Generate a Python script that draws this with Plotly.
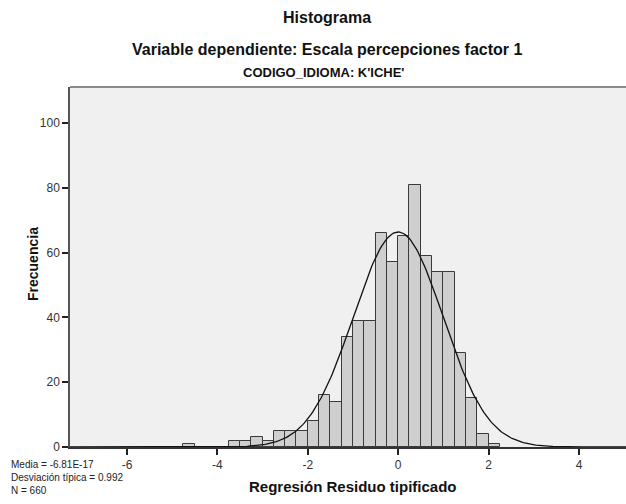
"""
Histograma de residuos tipificados - CODIGO_IDIOMA: K'ICHE'
"""

import numpy as np
import plotly.graph_objects as go

# bins (left edge) and counts
bin_left = [-4.75, -3.75, -3.5, -3.25, -3.0, -2.75, -2.5, -2.25, -2.0, -1.75,
            -1.5, -1.25, -1.0, -0.75, -0.5, -0.25, 0.0, 0.25, 0.5, 0.75,
            1.0, 1.25, 1.5, 1.75, 2.0]
counts = [1, 2, 2, 3, 2, 5, 5, 5, 8, 16,
          14, 34, 39, 39, 66, 57, 65, 81, 59, 54,
          54, 29, 15, 4, 1]
bin_width = 0.25

# summary stats shown under the chart
media = -6.81e-17
desv = 0.992
n_total = 660

x_ticks = [-6, -4, -2, 0, 2, 4]
x_tick_labels = ["-6", "-4", "-2", "0", "2", "4"]
y_ticks = [0, 20, 40, 60, 80, 100]

FONT = "Arial, Liberation Sans, sans-serif"
W, H = 626, 504
L, R, T, B = 70, 0, 87, 57

fig = go.Figure()

fig.add_trace(go.Bar(
    x=bin_left,
    y=counts,
    width=bin_width,
    offset=0,
    marker=dict(color="#cfcfcf", line=dict(color="#3a3a3a", width=1)),
    hoverinfo="x+y",
    showlegend=False,
))

# normal curve scaled to counts
xs = np.linspace(-7.3, 5.1, 400)
ys = n_total * bin_width / (desv * np.sqrt(2 * np.pi)) * np.exp(-0.5 * ((xs - media) / desv) ** 2)
fig.add_trace(go.Scatter(
    x=xs, y=ys, mode="lines",
    line=dict(color="#111111", width=1.3),
    hoverinfo="skip",
    showlegend=False,
))

fig.update_layout(
    width=W,
    height=H,
    margin=dict(l=L, r=R, t=T, b=B),
    paper_bgcolor="white",
    plot_bgcolor="#f0f0f0",
    bargap=0,
    font=dict(family=FONT, size=11, color="#222222"),
    xaxis=dict(
        range=[-7.26, 5.04],
        tickvals=x_ticks,
        ticktext=x_tick_labels,
        ticks="outside",
        ticklen=6,
        tickwidth=1.5,
        tickcolor="#222222",
        showgrid=False,
        zeroline=False,
        showline=True,
        linecolor="#333333",
        linewidth=1.5,
        tickfont=dict(size=12, color="#333333"),
        fixedrange=True,
    ),
    yaxis=dict(
        range=[0, 111.1],
        tickvals=y_ticks,
        ticks="outside",
        ticklen=6,
        tickwidth=1.5,
        tickcolor="#222222",
        showgrid=False,
        zeroline=False,
        showline=True,
        linecolor="#555555",
        linewidth=1.5,
        tickfont=dict(size=12, color="#333333"),
        fixedrange=True,
    ),
)

# top border of plot frame
fig.add_shape(type="line", xref="paper", yref="paper", x0=0, x1=1, y0=1, y1=1,
              line=dict(color="#666666", width=1.5))


# pixel -> paper coords (paper is the plot area)
def px_x(x):
    return (x - L) / (W - L - R)


def px_y(y):
    return (H - B - y) / (H - T - B)


texts = [
    ("<b>Histograma</b>", 327, 17, 16),
    ("<b>Variable dependiente: Escala percepciones factor 1</b>", 327, 50, 16),
    ("<b>CODIGO_IDIOMA: K'ICHE'</b>", 323, 73, 13),
    ("<b>Regresión Residuo tipificado</b>", 353, 486, 15),
]
for txt, x, y, size in texts:
    fig.add_annotation(text=txt, xref="paper", yref="paper", x=px_x(x), y=px_y(y),
                       xanchor="center", yanchor="middle", showarrow=False,
                       font=dict(family=FONT, size=size, color="#111111"))

fig.add_annotation(text="<b>Frecuencia</b>", xref="paper", yref="paper",
                   x=px_x(33), y=px_y(264), textangle=-90,
                   xanchor="center", yanchor="middle", showarrow=False,
                   font=dict(family=FONT, size=14, color="#111111"))

stats = [
    "Media = -6.81E-17",
    f"Desviación típica = {desv}",
    f"N = {n_total}",
]
fig.add_annotation(text="<br>".join(stats), xref="paper", yref="paper",
                   x=px_x(9), y=px_y(478), align="left",
                   xanchor="left", yanchor="middle", showarrow=False,
                   font=dict(family=FONT, size=10, color="#222222"))

fig.write_html("out.html", config={"displayModeBar": False},
               post_script="document.body.style.margin='0';")
